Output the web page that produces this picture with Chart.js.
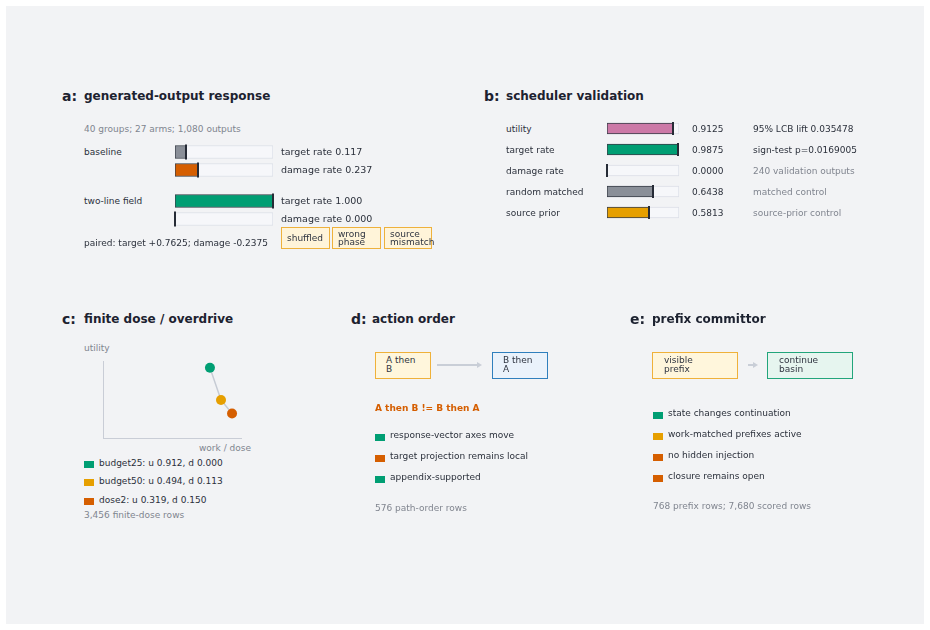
<!DOCTYPE html>
<html><head><meta charset="utf-8">
<script src="https://cdn.jsdelivr.net/npm/chart.js@4.4.1/dist/chart.umd.min.js"></script>
<style>
html,body{margin:0;padding:0;background:#fff;}
#page{position:relative;width:930px;height:630px;background:#fff;font-family:"DejaVu Sans",sans-serif;color:#2b303b;overflow:hidden}
#panel{position:absolute;left:6px;top:6px;width:918px;height:618px;background:#f2f3f5}
.t{position:absolute;white-space:pre;font-size:9px;line-height:12px;}
.h{font-weight:bold;font-size:12px;line-height:16px;color:#1d2230}
.L{font-weight:bold;font-size:14px;line-height:18px;color:#1d2230}
.g{color:#80858f}
.v{font-size:9.5px}
.bx{position:absolute;box-sizing:border-box;border:1.3px solid}
.bt{position:absolute;white-space:pre;font-size:9px;line-height:8.5px;color:#2f3440}
.sq{position:absolute;width:10px;height:7px}
.cw{position:absolute}
</style></head>
<body><div id="page"><div id="panel"></div></div>
<script>
// ---------- data ----------
const aGroups = ['baseline', 'two-line field'];
const aMetrics = ['target rate', 'damage rate'];
const aBaseline = [0.117, 0.237];
const aTwoLine = [1.000, 0.000];
const aPaired = ['paired: target +0.7625', 'damage -0.2375'];
const aControls = ['shuffled', 'wrong\nphase', 'source\nmismatch'];
const aSubtitle = '40 groups; 27 arms; 1,080 outputs';

const bLabels = ['utility', 'target rate', 'damage rate', 'random matched', 'source prior'];
const bValues = [0.9125, 0.9875, 0.0000, 0.6438, 0.5813];
const bNotes = ['95% LCB lift 0.035478', 'sign-test p=0.0169005', '240 validation outputs', 'matched control', 'source-prior control'];

const cSeries = ['budget25', 'budget50', 'dose2'];
const cUtility = [0.912, 0.494, 0.319];
const cDamage = [0.000, 0.113, 0.150];
const cWork = [0.775, 0.855, 0.935];
const cNote = '3,456 finite-dose rows';

const dSteps = ['A then\nB', 'B then\nA'];
const dClaim = 'A then B != B then A';
const dItems = ['response-vector axes move', 'target projection remains local', 'appendix-supported'];
const dNote = '576 path-order rows';

const eSteps = ['visible\nprefix', 'continue\nbasin'];
const eItems = ['state changes continuation', 'work-matched prefixes active', 'no hidden injection', 'closure remains open'];
const eNote = '768 prefix rows; 7,680 scored rows';

// ---------- styles ----------
const C = {green:'#009e73', orange:'#d55e00', yellow:'#e69f00', pink:'#cc79a7', grey:'#8a8f98',
  ink:'#262b36', track:'#f6f7fa', trackLine:'#dcdfe7', axis:'#c9cdd6'};
const aColors = [[C.grey, C.orange],[C.green, C.orange]];
const bColors = [C.pink, C.green, C.orange, C.grey, C.yellow];
const bNoteGrey = [false, false, true, true, true];
const cColors = [C.green, C.yellow, C.orange];
const dItemColors = [C.green, C.orange, C.green];
const eItemColors = [C.green, C.yellow, C.orange, C.orange];

const page = document.getElementById('page');
function T(x, yc, text, cls, lh) {
  const d = document.createElement('div');
  d.className = 't ' + (cls || '');
  d.textContent = text;
  lh = lh || 12;
  d.style.left = x + 'px';
  d.style.top = (yc - lh / 2) + 'px';
  page.appendChild(d);
  return d;
}
function box(x1, y1, x2, y2, fill, line) {
  const d = document.createElement('div');
  d.className = 'bx';
  Object.assign(d.style, {left:x1+'px', top:y1+'px', width:(x2-x1)+'px', height:(y2-y1)+'px', background:fill, borderColor:line});
  page.appendChild(d);
}
function btext(x, ytop, text) {
  const d = document.createElement('div');
  d.className = 'bt'; d.textContent = text;
  d.style.left = x + 'px'; d.style.top = ytop + 'px';
  page.appendChild(d);
}
function sq(x, y, color) {
  const d = document.createElement('div');
  d.className = 'sq'; d.style.left = x + 'px'; d.style.top = y + 'px'; d.style.background = color;
  page.appendChild(d);
}
function arrow(x1, x2, y) {
  const s = document.createElementNS('http://www.w3.org/2000/svg', 'svg');
  s.setAttribute('width', 930); s.setAttribute('height', 630);
  s.style.position = 'absolute'; s.style.left = '0'; s.style.top = '0';
  s.innerHTML = `<line x1="${x1}" y1="${y}" x2="${x2-4}" y2="${y}" stroke="#c9ced7" stroke-width="2"/>` +
    `<polygon points="${x2},${y} ${x2-5},${y-3} ${x2-5},${y+3}" fill="#c9ced7"/>`;
  page.appendChild(s);
}
function canvasAt(x, y, w, h) {
  const wrap = document.createElement('div');
  wrap.className = 'cw';
  Object.assign(wrap.style, {left:x+'px', top:y+'px', width:w+'px', height:h+'px'});
  const c = document.createElement('canvas');
  c.width = w; c.height = h; c.style.width = w + 'px'; c.style.height = h + 'px';
  wrap.appendChild(c); page.appendChild(wrap);
  return c;
}

// end marker drawn at each value through the x scale
const endMarker = {id:'endMarker', afterDatasetsDraw(chart) {
  const meta = chart.getDatasetMeta(0), ctx = chart.ctx, xs = chart.scales.x;
  ctx.save(); ctx.strokeStyle = C.ink; ctx.lineWidth = 2;
  meta.data.forEach((bar, i) => {
    const x = Math.round(xs.getPixelForValue(chart.data.datasets[0].data[i]));
    const h = bar.height;
    ctx.beginPath(); ctx.moveTo(x, bar.y - h/2 - 1); ctx.lineTo(x, bar.y + h/2 + 1); ctx.stroke();
  });
  ctx.restore();
}};

function hbar(canvas, labels, values, colors, thick, padL, padR) {
  const full = 1;
  return new Chart(canvas, {
    type: 'bar',
    data: {labels, datasets: [
      {data: values, backgroundColor: colors, borderColor: 'rgba(38,43,54,0.9)', borderWidth: 1, borderSkipped: false,
        barThickness: thick, grouped: false, order: 0},
      {data: labels.map(() => full), backgroundColor: C.track, borderColor: C.trackLine, borderWidth: 1, borderSkipped: false,
        barThickness: thick, grouped: false, order: 1}
    ]},
    options: {indexAxis: 'y', responsive: false, animation: false, events: [],
      layout: {padding: {left: padL, right: padR, top: 0, bottom: 0}},
      plugins: {legend: {display: false}, tooltip: {enabled: false}},
      scales: {x: {display: false, min: 0, max: full}, y: {display: false}}},
    plugins: [endMarker]
  });
}

// ---------- panel a ----------
T(62, 96, 'a:', 'L', 18);
T(84, 96, 'generated-output response', 'h', 16);
T(84, 129, aSubtitle, 'g');
const aVals = [aBaseline, aTwoLine];
const aTops = [143, 192];
aGroups.forEach((g, gi) => {
  T(84, aTops[gi] + 9, g);
  hbar(canvasAt(165, aTops[gi], 120, 36), aMetrics, aVals[gi], aColors[gi], 13, 10, 12);
  aMetrics.forEach((m, mi) => T(281, aTops[gi] + 9 + mi * 18, m + ' ' + aVals[gi][mi].toFixed(3), 'v'));
});
T(84, 243, aPaired.join('; '));
const ctlX = [[281, 330], [332, 381], [384, 432]];
aControls.forEach((c, i) => {
  box(ctlX[i][0], 227, ctlX[i][1], 249, '#fff4d9', '#eeb13c');
  const lines = c.split('\n').length;
  btext(ctlX[i][0] + 6, lines === 1 ? 233.5 : 229.5, c);
});

// ---------- panel b ----------
T(484, 96, 'b:', 'L', 18);
T(506, 96, 'scheduler validation', 'h', 16);
hbar(canvasAt(600, 118, 86, 105), bLabels, bValues, bColors, 11, 7, 7);
bLabels.forEach((l, i) => {
  const y = 128.5 + i * 21;
  T(506, y, l);
  T(692, y, bValues[i].toFixed(4));
  T(753, y, bNotes[i], bNoteGrey[i] ? 'g' : '');
});

// ---------- panel c ----------
T(62, 319, 'c:', 'L', 18);
T(84, 319, 'finite dose / overdrive', 'h', 16);
T(84, 348, 'utility', 'g');
T(199, 448, 'work / dose', 'g');
new Chart(canvasAt(93, 351, 160, 97), {
  type: 'scatter',
  data: {datasets: [{data: cWork.map((x, i) => ({x, y: cUtility[i]})), showLine: true,
    borderColor: '#c6cbd4', borderWidth: 1.5, pointRadius: 5, pointBackgroundColor: cColors, pointBorderWidth: 0}]},
  options: {responsive: false, animation: false, events: [],
    layout: {padding: {left: 10, right: 12, top: 10, bottom: 10}},
    plugins: {legend: {display: false}, tooltip: {enabled: false}},
    scales: {
      x: {min: 0, max: 1, grid: {display: false, drawTicks: false}, ticks: {display: false}, border: {display: true, color: C.axis, width: 1}},
      y: {min: 0, max: 1, grid: {display: false, drawTicks: false}, ticks: {display: false}, border: {display: true, color: C.axis, width: 1}}
    }}
});
cSeries.forEach((s, i) => {
  const y = 463 + i * 18.4;
  sq(84, y - 2, cColors[i]);
  T(99, y, `${s}: u ${cUtility[i].toFixed(3)}, d ${cDamage[i].toFixed(3)}`);
});
T(84, 515, cNote, 'g');

// ---------- panel d ----------
T(351, 319, 'd:', 'L', 18);
T(372, 319, 'action order', 'h', 16);
box(375, 352, 431, 379, '#fff6dc', '#efb13a');
btext(386, 356, dSteps[0]);
arrow(437, 482, 365);
box(492, 352, 548, 379, '#eaf2fb', '#2f7fbd');
btext(503, 356, dSteps[1]);
const dc = T(375, 408, dClaim);
dc.style.fontWeight = 'bold'; dc.style.color = C.orange;
dItems.forEach((it, i) => {
  const y = 435 + i * 21;
  sq(375, y - 1, dItemColors[i]);
  T(390, y, it);
});
T(375, 508, dNote, 'g');

// ---------- panel e ----------
T(630, 319, 'e:', 'L', 18);
T(652, 319, 'prefix committor', 'h', 16);
box(652, 352, 738, 379, '#fff6dc', '#efb13a');
btext(664, 356, eSteps[0]);
arrow(748, 758, 365);
box(767, 352, 853, 379, '#e6f5ef', '#22a57b');
btext(779, 356, eSteps[1]);
eItems.forEach((it, i) => {
  const y = 412.7 + i * 21.1;
  sq(653, y - 1, eItemColors[i]);
  T(668, y, it);
});
T(653, 506, eNote, 'g');
</script>
</body></html>
